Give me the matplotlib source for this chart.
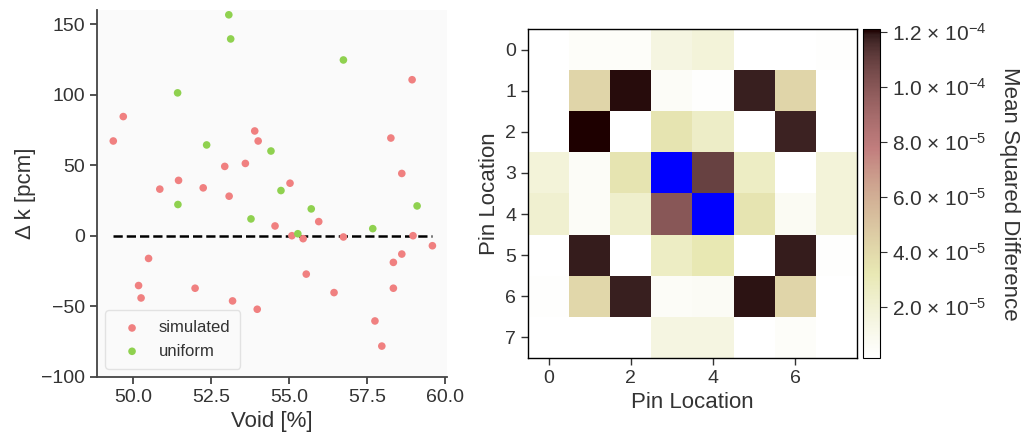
import numpy as np
import matplotlib
matplotlib.use("Agg")
import matplotlib.pyplot as plt
from matplotlib.ticker import FuncFormatter

plt.rcParams['font.family'] = ['Liberation Sans', 'DejaVu Sans']
plt.rcParams['mathtext.fontset'] = 'custom'
plt.rcParams['mathtext.rm'] = 'Liberation Sans'
plt.rcParams['mathtext.it'] = 'Liberation Sans:italic'
plt.rcParams['mathtext.bf'] = 'Liberation Sans:bold'
plt.rcParams['text.color'] = '#333333'
plt.rcParams['axes.labelcolor'] = '#333333'
plt.rcParams['xtick.color'] = '#333333'
plt.rcParams['ytick.color'] = '#333333'

# simulated voids and reactivity differences
sim_void = [49.69, 49.37, 53.90, 54.01, 52.94, 53.60, 50.86, 51.46, 52.25, 53.08,
            55.03, 58.94, 58.26, 58.61, 54.55, 55.09, 50.50, 50.18, 50.26, 51.99,
            53.19, 53.98, 55.95, 55.45, 56.74, 58.97, 59.59, 58.61, 58.34, 55.55,
            56.44, 58.34, 57.75, 57.97]
sim_dk = [84.5, 67.2, 74.3, 67.2, 49.2, 51.3, 33.1, 39.3, 34.0, 28.1,
          37.3, 110.6, 69.3, 44.2, 7.0, 0.1, -16.0, -35.2, -44.0, -37.1,
          -46.1, -52.0, 10.1, -2.0, -0.8, 0.1, -7.0, -12.9, -18.8, -27.1,
          -40.2, -37.1, -60.3, -78.1]
uni_void = [53.07, 53.13, 51.43, 52.36, 54.42, 54.74, 56.74, 51.44, 53.78, 55.71,
            55.28, 57.68, 59.10]
uni_dk = [156.6, 139.5, 101.3, 64.4, 60.1, 32.1, 124.6, 22.2, 12.0, 19.1,
          1.5, 5.1, 21.2]

nan = np.nan
# mean squared difference per pin (8x8), units of 1e-5
msd = np.array([
    [0.15, 0.40, 0.40, 1.50, 1.80, 0.15, 0.15, 0.25],
    [0.15, 4.20, 12.00, 0.50, 0.25, 11.80, 4.20, 0.15],
    [0.15, 12.11, 0.15, 3.40, 2.50, 0.15, 11.75, 0.15],
    [1.80, 0.50, 3.40, nan, 10.90, 2.60, 0.15, 1.80],
    [2.20, 0.50, 2.30, 10.00, nan, 3.40, 0.70, 1.80],
    [0.15, 11.85, 0.15, 2.60, 3.20, 0.15, 11.85, 0.25],
    [0.25, 4.10, 11.80, 0.50, 0.60, 11.95, 4.20, 0.15],
    [0.15, 0.15, 0.15, 1.50, 1.50, 0.15, 0.40, 0.15],
]) * 1e-5
cbar_ticks = [2e-5, 4e-5, 6e-5, 8e-5, 1.0e-4, 1.2e-4]

fig = plt.figure(figsize=(10.28, 4.37), dpi=100)

# ---- scatter panel
ax = fig.add_axes([0.0944, 0.1373, 0.3405, 0.8398])
ax.set_facecolor('#fafafa')
ax.scatter(sim_void, sim_dk, s=30, color='#f08080', edgecolor='none', label='simulated', zorder=3)
ax.scatter(uni_void, uni_dk, s=30, color='#8fd14f', edgecolor='none', label='uniform', zorder=3)
all_void = sim_void + uni_void
ax.hlines(0, min(all_void), max(all_void), colors='black', linestyles='--', lw=1.8, zorder=2)
ax.set_xlim(48.85, 60.06)
ax.set_ylim(-100, 160)
ax.set_xticks([50.0, 52.5, 55.0, 57.5, 60.0])
ax.set_xticklabels(['50.0', '52.5', '55.0', '57.5', '60.0'])
ax.set_yticks([-100, -50, 0, 50, 100, 150])
ax.set_yticklabels(['\u2212100', '\u221250', '0', '50', '100', '150'])
for s in ['top', 'right']:
    ax.spines[s].set_visible(False)
for s in ['left', 'bottom']:
    ax.spines[s].set_color('#444444')
    ax.spines[s].set_linewidth(1.3)
ax.tick_params(labelsize=14, length=5, width=1.2, color='#333333')
ax.set_xlabel('Void [%]', fontsize=16)
ax.set_ylabel('\u0394 k [pcm]', fontsize=16)
leg = ax.legend(loc='lower left', fontsize=12, frameon=True, handletextpad=0.6,
                borderpad=0.6)
leg.get_frame().set_edgecolor('#dddddd')
leg.get_frame().set_facecolor('#fafafa')

# ---- heatmap panel
axh = fig.add_axes([0.5136, 0.1808, 0.32, 0.7529])
cmap = plt.get_cmap('pink_r').copy()
cmap.set_bad('blue')
im = axh.imshow(np.ma.masked_invalid(msd), cmap=cmap, interpolation='nearest',
                vmin=np.nanmin(msd), vmax=np.nanmax(msd))
axh.set_xticks([0, 2, 4, 6])
axh.set_yticks(range(8))
axh.tick_params(labelsize=14, length=5, width=1.0, color='#333333')
for s in axh.spines.values():
    s.set_color('black')
    s.set_linewidth(1.0)
axh.set_xlabel('Pin Location', fontsize=16)
axh.set_ylabel('Pin Location', fontsize=16)

cax = fig.add_axes([0.8395, 0.1808, 0.0165, 0.7529])
def sci(v, pos):
    e = int(np.floor(np.log10(v) + 1e-9))
    return '%.1f \u00d7 10$^{%d}$' % (v / 10 ** e, e)
cb = fig.colorbar(im, cax=cax, ticks=cbar_ticks, format=FuncFormatter(sci))
cb.outline.set_edgecolor('black')
cb.ax.tick_params(labelsize=15, length=5, color='#333333')
cb.set_label('Mean Squared Difference', fontsize=16, rotation=270, labelpad=24)

fig.savefig('out.png', dpi=100)
